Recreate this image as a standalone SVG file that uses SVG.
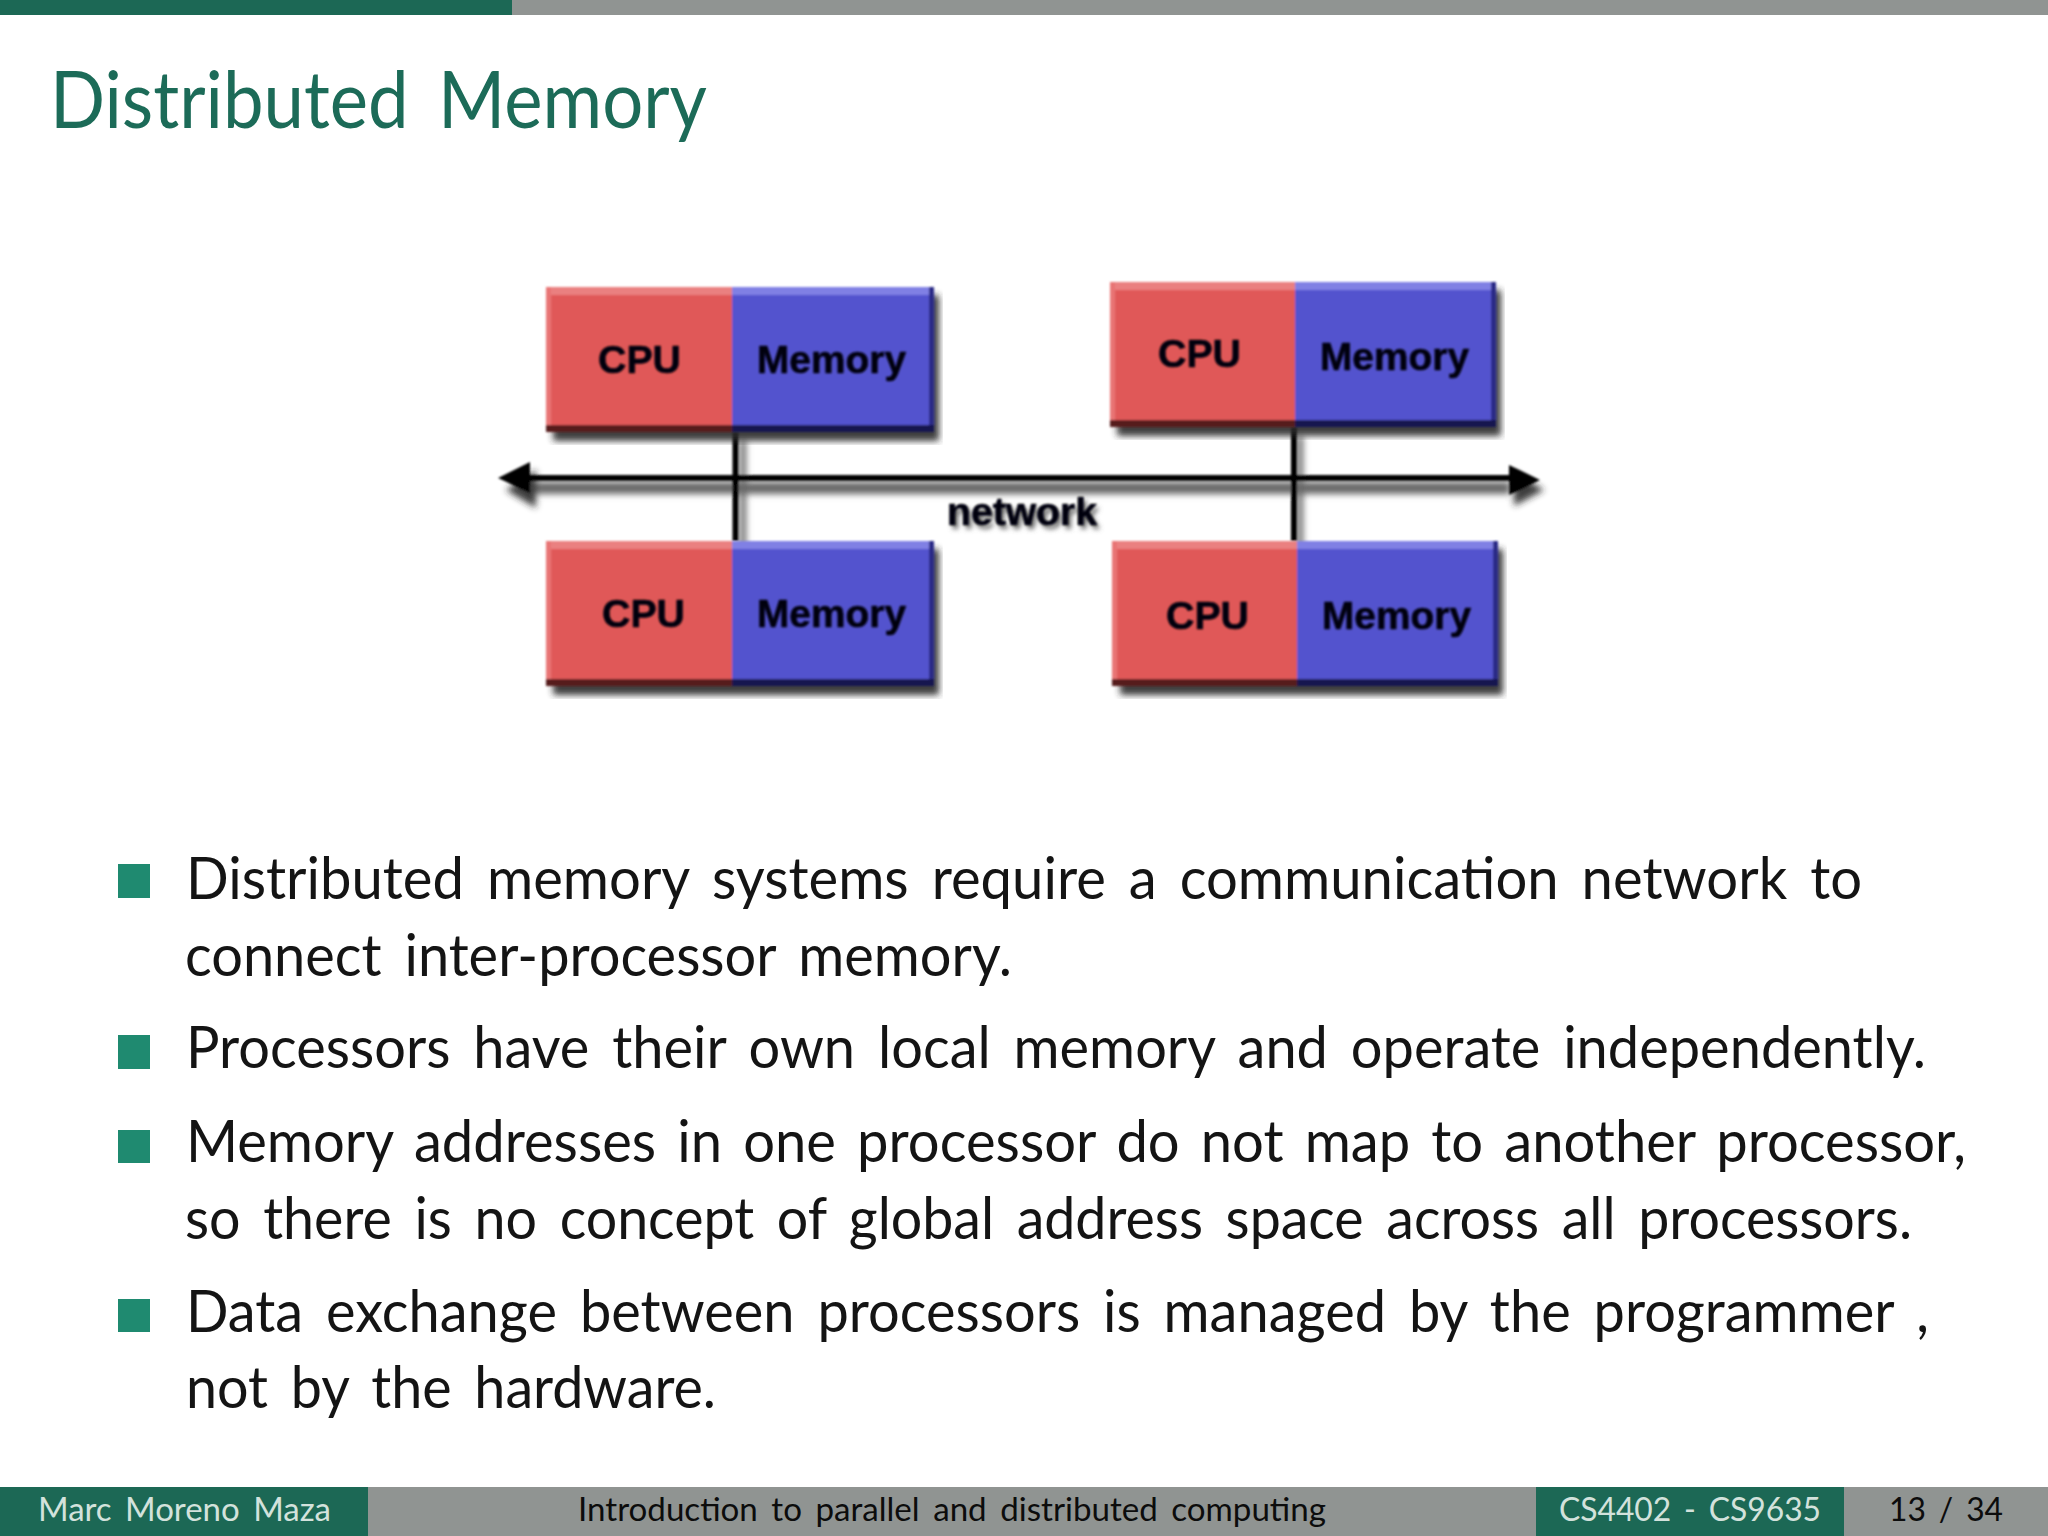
<svg xmlns="http://www.w3.org/2000/svg" width="2048" height="1536" viewBox="0 0 2048 1536">
<style>
text{font-family:Lato,"Open Sans","Liberation Sans",sans-serif}
.title{font-size:80px;fill:#1c6b58;font-weight:400;word-spacing:12px}
.body{font-size:59px;fill:#141414;font-weight:400;word-spacing:9px}
.foot{font-size:33px;font-weight:400;word-spacing:5px}
.lt{fill:#d3e2dc}.dk{fill:#0c0c0c}
.bul{fill:#1f8a70}
.g{fill:#1c6855}.gr{fill:#909492}
.lab{font-family:"Liberation Sans",Arial,sans-serif;font-weight:700;font-size:39px;fill:#05050f;stroke:#05050f;stroke-width:.6px}
.cpu{fill:#e05858}.mem{fill:#5252ce}
.cput{fill:#ea8080}.memt{fill:#8080e4}
.cpub{fill:#571a1a}.memb{fill:#17174f}
.cpul{fill:#e87474}.memr{fill:#2c2c86}
.sh{fill:#2a2a2a;opacity:.9}
.ln{stroke:#000;stroke-width:6;fill:none}
.lns{stroke:#666;stroke-width:12;fill:none}
</style>
<defs>
<filter id="soft" x="-5%" y="-5%" width="110%" height="110%"><feGaussianBlur stdDeviation="1.1"/></filter>
<filter id="shb" x="-10%" y="-30%" width="120%" height="160%"><feGaussianBlur stdDeviation="3"/></filter>
<filter id="tsh" x="-10%" y="-30%" width="120%" height="160%"><feGaussianBlur stdDeviation="2.5"/></filter>
<filter id="lb" x="-10%" y="-30%" width="120%" height="160%"><feGaussianBlur stdDeviation="0.8"/></filter>
</defs>
<rect width="2048" height="1536" fill="#fff"/>
<g id="top-bar"><rect class="gr" x="0" y="0" width="2048" height="15"/><rect class="g" x="0" y="0" width="512" height="15"/></g>
<text id="title" class="title" x="50" y="128" textLength="657" lengthAdjust="spacingAndGlyphs">Distributed Memory</text>

<g id="connectors" filter="url(#soft)">
<g filter="url(#shb)"><path class="lns" d="M530 488H1510"/><path class="sh" d="M506 490L536 470V508Z"/><path class="sh" d="M1544 490L1514 472V506Z"/><path class="lns" d="M743 440V549M1300 436V549" style="stroke-width:6"/></g>
<path class="ln" d="M520 478H1520"/>
<path class="ln" d="M735.5 432V541M1294 427V541"/>
<path d="M498 478L530 462V493Z" fill="#000"/>
<path d="M1540 480L1509 465V495Z" fill="#000"/>
</g>

<g id="node-top-left">
<g filter="url(#soft)">
<rect class="sh" x="553" y="295" width="386" height="146" filter="url(#shb)"/>
<rect class="cpu" x="546" y="287" width="186" height="145"/><rect class="mem" x="732" y="287" width="202" height="145"/>
<rect class="cput" x="546" y="287" width="186" height="8"/><rect class="memt" x="732" y="287" width="202" height="8"/>
<rect class="cpul" x="546" y="287" width="5" height="145"/><rect class="memr" x="929" y="287" width="5" height="145"/>
<rect class="cpub" x="546" y="425" width="186" height="7"/><rect class="memb" x="732" y="425" width="202" height="7"/>
</g>
<g filter="url(#lb)">
<text class="lab" x="598" y="373" textLength="83" lengthAdjust="spacingAndGlyphs">CPU</text>
<text class="lab" x="757" y="373" textLength="149" lengthAdjust="spacingAndGlyphs">Memory</text>
</g>
</g>

<g id="node-top-right">
<g filter="url(#soft)">
<rect class="sh" x="1117" y="290" width="384" height="146" filter="url(#shb)"/>
<rect class="cpu" x="1110" y="282" width="185" height="145"/><rect class="mem" x="1295" y="282" width="201" height="145"/>
<rect class="cput" x="1110" y="282" width="185" height="8"/><rect class="memt" x="1295" y="282" width="201" height="8"/>
<rect class="cpul" x="1110" y="282" width="5" height="145"/><rect class="memr" x="1491" y="282" width="5" height="145"/>
<rect class="cpub" x="1110" y="420" width="185" height="7"/><rect class="memb" x="1295" y="420" width="201" height="7"/>
</g>
<g filter="url(#lb)">
<text class="lab" x="1158" y="367" textLength="83" lengthAdjust="spacingAndGlyphs">CPU</text>
<text class="lab" x="1320" y="370" textLength="149" lengthAdjust="spacingAndGlyphs">Memory</text>
</g>
</g>

<g id="node-bottom-left">
<g filter="url(#soft)">
<rect class="sh" x="553" y="549" width="386" height="146" filter="url(#shb)"/>
<rect class="cpu" x="546" y="541" width="186" height="145"/><rect class="mem" x="732" y="541" width="202" height="145"/>
<rect class="cput" x="546" y="541" width="186" height="8"/><rect class="memt" x="732" y="541" width="202" height="8"/>
<rect class="cpul" x="546" y="541" width="5" height="145"/><rect class="memr" x="929" y="541" width="5" height="145"/>
<rect class="cpub" x="546" y="679" width="186" height="7"/><rect class="memb" x="732" y="679" width="202" height="7"/>
</g>
<g filter="url(#lb)">
<text class="lab" x="602" y="627" textLength="83" lengthAdjust="spacingAndGlyphs">CPU</text>
<text class="lab" x="757" y="627" textLength="149" lengthAdjust="spacingAndGlyphs">Memory</text>
</g>
</g>

<g id="node-bottom-right">
<g filter="url(#soft)">
<rect class="sh" x="1120" y="549" width="383" height="146" filter="url(#shb)"/>
<rect class="cpu" x="1112" y="541" width="185" height="145"/><rect class="mem" x="1297" y="541" width="201" height="145"/>
<rect class="cput" x="1112" y="541" width="185" height="8"/><rect class="memt" x="1297" y="541" width="201" height="8"/>
<rect class="cpul" x="1112" y="541" width="5" height="145"/><rect class="memr" x="1493" y="541" width="5" height="145"/>
<rect class="cpub" x="1112" y="679" width="185" height="7"/><rect class="memb" x="1297" y="679" width="201" height="7"/>
</g>
<g filter="url(#lb)">
<text class="lab" x="1166" y="629" textLength="83" lengthAdjust="spacingAndGlyphs">CPU</text>
<text class="lab" x="1322" y="629" textLength="149" lengthAdjust="spacingAndGlyphs">Memory</text>
</g>
</g>

<g id="network-label">
<text class="lab" x="950" y="529" textLength="150" lengthAdjust="spacingAndGlyphs" style="fill:#666;stroke:none" filter="url(#tsh)">network</text>
<text class="lab" x="947" y="525" textLength="150" lengthAdjust="spacingAndGlyphs" filter="url(#lb)">network</text>
</g>

<g id="bullets">
<rect class="bul" x="118" y="864" width="32" height="34"/>
<rect class="bul" x="118" y="1035" width="32" height="34"/>
<rect class="bul" x="118" y="1130" width="32" height="33"/>
<rect class="bul" x="118" y="1299" width="32" height="33"/>
<text class="body" x="186" y="899" textLength="1676" lengthAdjust="spacingAndGlyphs">Distributed memory systems require a communication network to</text>
<text class="body" x="185" y="976" textLength="827" lengthAdjust="spacingAndGlyphs">connect inter-processor memory.</text>
<text class="body" x="186" y="1068" textLength="1740" lengthAdjust="spacingAndGlyphs">Processors have their own local memory and operate independently.</text>
<text class="body" x="186" y="1162" textLength="1780" lengthAdjust="spacingAndGlyphs" style="font-size:58px;word-spacing:7px">Memory addresses in one processor do not map to another processor,</text>
<text class="body" x="185" y="1239" textLength="1727" lengthAdjust="spacingAndGlyphs">so there is no concept of global address space across all processors.</text>
<text class="body" x="186" y="1332" textLength="1743" lengthAdjust="spacingAndGlyphs">Data exchange between processors is managed by the programmer ,</text>
<text class="body" x="186" y="1408" textLength="530" lengthAdjust="spacingAndGlyphs">not by the hardware.</text>
</g>

<g id="footer">
<rect class="gr" x="0" y="1487" width="2048" height="49"/>
<rect class="g" x="0" y="1487" width="368" height="49"/>
<rect class="g" x="1536" y="1487" width="308" height="49"/>
<text class="foot lt" x="38" y="1521" textLength="293" lengthAdjust="spacingAndGlyphs">Marc Moreno Maza</text>
<text class="foot dk" x="578" y="1521" textLength="748" lengthAdjust="spacingAndGlyphs">Introduction to parallel and distributed computing</text>
<text class="foot lt" x="1559" y="1521" textLength="262" lengthAdjust="spacingAndGlyphs">CS4402 - CS9635</text>
<text class="foot dk" x="1889" y="1521" textLength="114" lengthAdjust="spacingAndGlyphs">13 / 34</text>
</g>
</svg>
